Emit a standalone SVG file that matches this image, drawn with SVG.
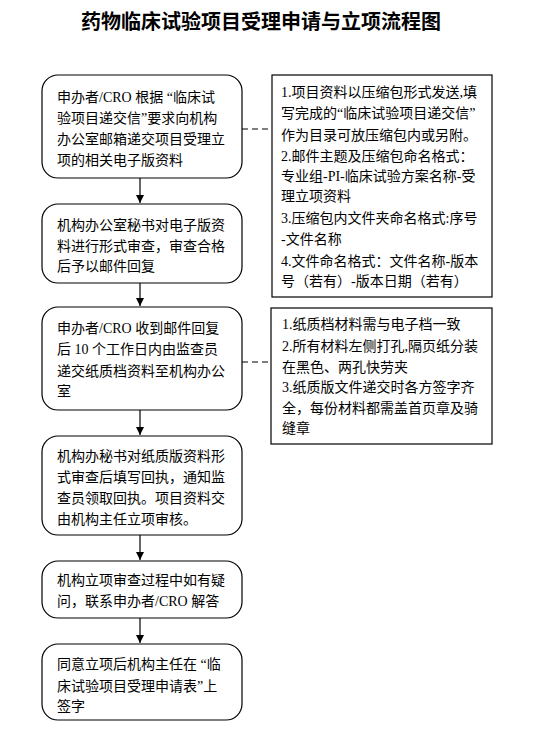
<svg xmlns="http://www.w3.org/2000/svg" width="535" height="730" viewBox="0 0 535 730">
<style>
.title{font-family:"Noto Sans CJK SC",sans-serif;font-size:20px;font-weight:bold;fill:#000}
.t{font-family:"Liberation Serif","Noto Sans CJK SC",serif;font-size:14px;fill:#000}
.step{fill:#fff;stroke:#000;stroke-width:1.2}
.note{fill:#fff;stroke:#000;stroke-width:1.2}
.flow{stroke:#000;stroke-width:1.2;fill:none}
.dash{stroke:#000;stroke-width:1.2;fill:none;stroke-dasharray:6 4}
</style>
<defs>
<marker id="arr" markerWidth="10" markerHeight="10" refX="8" refY="4" orient="auto" markerUnits="userSpaceOnUse">
<path d="M0,0 L8,4 L0,8 Z" fill="#000"/>
</marker>
</defs>
<rect width="535" height="730" fill="#fff"/>
<text class="title" x="261" y="29" text-anchor="middle">药物临床试验项目受理申请与立项流程图</text>

<g id="connectors">
<line class="flow" x1="140" y1="178" x2="140" y2="203" marker-end="url(#arr)"/>
<line class="flow" x1="140" y1="283" x2="140" y2="306" marker-end="url(#arr)"/>
<line class="flow" x1="140" y1="410" x2="140" y2="435" marker-end="url(#arr)"/>
<line class="flow" x1="140" y1="535" x2="140" y2="560" marker-end="url(#arr)"/>
<line class="flow" x1="140" y1="618" x2="140" y2="643" marker-end="url(#arr)"/>
<line class="dash" x1="242" y1="129" x2="272" y2="129"/>
<line class="dash" x1="242" y1="362" x2="271" y2="362"/>
</g>

<g id="step1">
<rect class="step" x="42" y="75" width="200" height="103" rx="16"/>
<text class="t" x="57" y="102">申办者/CRO 根据 “临床试</text>
<text class="t" x="57" y="123">验项目递交信”要求向机构</text>
<text class="t" x="57" y="144">办公室邮箱递交项目受理立</text>
<text class="t" x="57" y="165">项的相关电子版资料</text>
</g>

<g id="step2">
<rect class="step" x="42" y="204" width="200" height="79" rx="16"/>
<text class="t" x="57" y="230">机构办公室秘书对电子版资</text>
<text class="t" x="57" y="251">料进行形式审查，审查合格</text>
<text class="t" x="57" y="271">后予以邮件回复</text>
</g>

<g id="step3">
<rect class="step" x="42" y="307" width="200" height="103" rx="16"/>
<text class="t" x="57" y="333">申办者/CRO 收到邮件回复</text>
<text class="t" x="57" y="354">后 10 个工作日内由监查员</text>
<text class="t" x="57" y="376">递交纸质档资料至机构办公</text>
<text class="t" x="57" y="396">室</text>
</g>

<g id="step4">
<rect class="step" x="42" y="436" width="200" height="99" rx="16"/>
<text class="t" x="57" y="461">机构办秘书对纸质版资料形</text>
<text class="t" x="57" y="482">式审查后填写回执，通知监</text>
<text class="t" x="57" y="503">查员领取回执。项目资料交</text>
<text class="t" x="57" y="524">由机构主任立项审核。</text>
</g>

<g id="step5">
<rect class="step" x="42" y="561" width="200" height="57" rx="16"/>
<text class="t" x="57" y="585">机构立项审查过程中如有疑</text>
<text class="t" x="57" y="606">问，联系申办者/CRO 解答</text>
</g>

<g id="step6">
<rect class="step" x="42" y="644" width="200" height="76" rx="16"/>
<text class="t" x="57" y="669">同意立项后机构主任在 “临</text>
<text class="t" x="57" y="691">床试验项目受理申请表”上</text>
<text class="t" x="57" y="711">签字</text>
</g>

<g id="note1">
<rect class="note" x="272" y="75" width="220" height="222"/>
<text class="t" x="281" y="97">1.项目资料以压缩包形式发送,填</text>
<text class="t" x="281" y="118">写完成的“临床试验项目递交信”</text>
<text class="t" x="281" y="140">作为目录可放压缩包内或另附。</text>
<text class="t" x="281" y="161">2.邮件主题及压缩包命名格式：</text>
<text class="t" x="281" y="181">专业组-PI-临床试验方案名称-受</text>
<text class="t" x="281" y="201">理立项资料</text>
<text class="t" x="281" y="223">3.压缩包内文件夹命名格式:序号</text>
<text class="t" x="281" y="244">-文件名称</text>
<text class="t" x="281" y="266">4.文件命名格式：文件名称-版本</text>
<text class="t" x="281" y="286">号（若有）-版本日期（若有）</text>
</g>

<g id="note2">
<rect class="note" x="271" y="308" width="221" height="136"/>
<text class="t" x="282" y="329">1.纸质档材料需与电子档一致</text>
<text class="t" x="282" y="351">2.所有材料左侧打孔,隔页纸分装</text>
<text class="t" x="282" y="372">在黑色、两孔快劳夹</text>
<text class="t" x="282" y="392">3.纸质版文件递交时各方签字齐</text>
<text class="t" x="282" y="413">全，每份材料都需盖首页章及骑</text>
<text class="t" x="282" y="433">缝章</text>
</g>
</svg>
